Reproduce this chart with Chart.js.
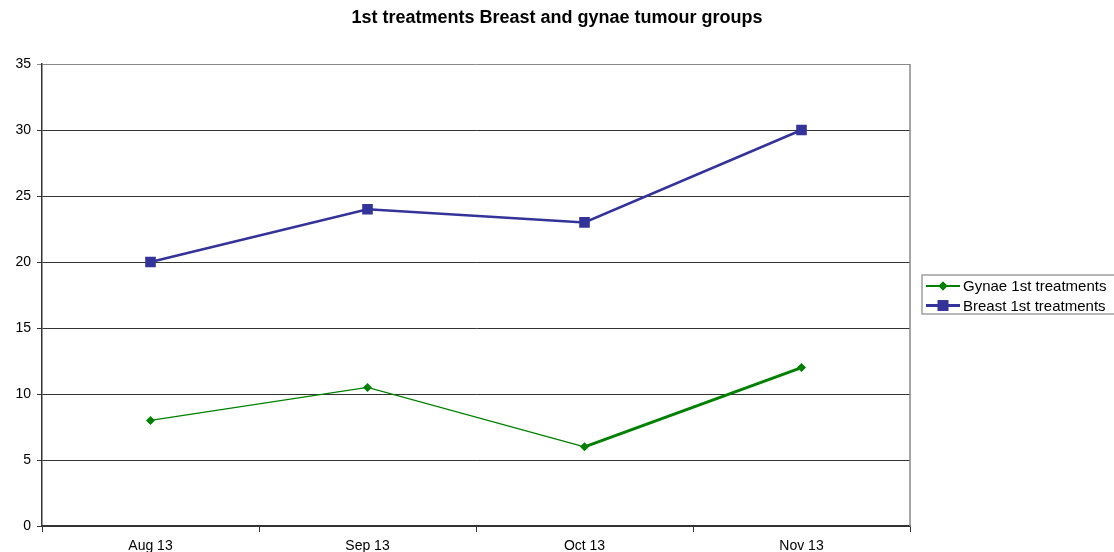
<!DOCTYPE html>
<html>
<head>
<meta charset="utf-8">
<script src="https://cdn.jsdelivr.net/npm/chart.js@4.4.0/dist/chart.umd.min.js"></script>
<style>
  html, body { margin: 0; padding: 0; background: #fff; }
  #wrap { width: 1114px; height: 552px; }
</style>
</head>
<body>
<div id="wrap"><canvas id="chart" width="1114" height="552"></canvas></div>
<script>
const months = ['Aug 13', 'Sep 13', 'Oct 13', 'Nov 13'];
const gynae  = [8, 10.5, 6, 12];
const breast = [20, 24, 23, 30];
const yTicks = [0, 5, 10, 15, 20, 25, 30, 35];

const GREEN = '#008000';
const BLUE  = '#333399';
const FONT  = "'Liberation Sans', Arial, sans-serif";

// right border of plot + boxed legend, like the old spreadsheet chart
const frameLegend = {
  id: 'frameLegend',
  afterDraw(chart) {
    const { ctx, chartArea } = chart;
    ctx.save();
    ctx.strokeStyle = '#888';
    ctx.lineWidth = 1.5;
    ctx.beginPath();
    ctx.moveTo(chartArea.right, chartArea.top);
    ctx.lineTo(chartArea.right, chartArea.bottom);
    ctx.stroke();

    // legend box
    ctx.lineWidth = 1.2;
    ctx.strokeRect(922, 275, 200, 39);

    const rows = [286, 305.5];
    chart.data.datasets.forEach((ds, i) => {
      const y = rows[i];
      ctx.strokeStyle = ds.borderColor;
      ctx.lineWidth = ds.legendLineWidth;
      ctx.beginPath();
      ctx.moveTo(926, y);
      ctx.lineTo(960, y);
      ctx.stroke();
      ctx.fillStyle = ds.borderColor;
      Chart.helpers.drawPoint(ctx, { pointStyle: ds.pointStyle, radius: ds.pointRadius, rotation: 0, borderWidth: 0 }, 943, y);
      ctx.fill();
      ctx.fillStyle = '#000';
      ctx.font = '15px ' + FONT;
      ctx.textBaseline = 'middle';
      ctx.fillText(ds.label, 963, y + 1);
    });
    ctx.restore();
  }
};

new Chart(document.getElementById('chart'), {
  type: 'line',
  data: {
    labels: months,
    datasets: [{
      label: 'Gynae 1st treatments',
      data: gynae,
      borderColor: GREEN,
      backgroundColor: GREEN,
      borderWidth: 1.3,
      legendLineWidth: 2,
      segment: {
        borderWidth: c => c.p0DataIndex === 2 ? 3 : 1.3
      },
      pointStyle: 'rectRot',
      pointRadius: 4.5,
      pointBorderWidth: 0,
      tension: 0
    }, {
      label: 'Breast 1st treatments',
      data: breast,
      borderColor: BLUE,
      backgroundColor: BLUE,
      borderWidth: 2.5,
      legendLineWidth: 3,
      pointStyle: 'rect',
      pointRadius: 7.5,
      pointBorderWidth: 0,
      tension: 0
    }]
  },
  options: {
    responsive: false,
    animation: false,
    layout: { padding: 0 },
    plugins: {
      legend: { display: false },
      tooltip: { enabled: false },
      title: {
        display: true,
        text: '1st treatments Breast and gynae tumour groups',
        color: '#000',
        font: { family: FONT, size: 18, weight: 'bold' },
        padding: { top: 7, bottom: 35.4 }
      }
    },
    scales: {
      x: {
        offset: true,
        afterFit: s => { s.height = 26; },
        grid: { drawOnChartArea: false, offset: true, tickLength: 6, color: '#333', lineWidth: 1 },
        border: { color: '#333', width: 1.5 },
        ticks: { color: '#000', padding: 6, font: { family: FONT, size: 14 }, maxRotation: 0 }
      },
      y: {
        min: yTicks[0],
        max: yTicks[yTicks.length - 1],
        afterFit: s => { s.width = 42; },
        afterBuildTicks: s => { s.ticks = yTicks.map(v => ({ value: v })); },
        grid: {
          tickLength: 5,
          color: c => c.tick && c.tick.value === 35 ? '#888' : '#333',
          lineWidth: 1
        },
        border: { color: '#333', width: 1.5 },
        ticks: { color: '#000', padding: 6, font: { family: FONT, size: 14 } }
      },
      // empty right-hand box that reserves the space where the legend sits
      legendSpace: {
        type: 'linear',
        position: 'right',
        display: true,
        afterFit: s => { s.width = 204; },
        grid: { display: false },
        border: { display: false },
        ticks: { display: false }
      }
    }
  },
  plugins: [frameLegend]
});
</script>
</body>
</html>
